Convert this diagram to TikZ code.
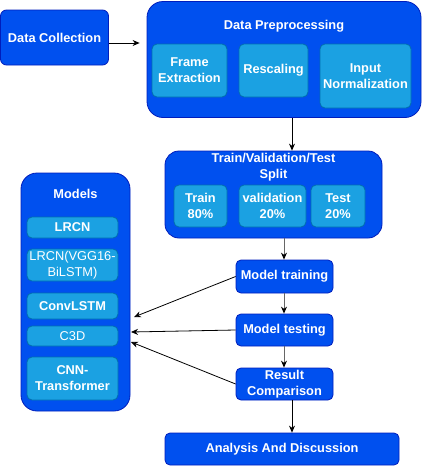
\documentclass[tikz,border=0pt]{standalone}
\usepackage{fontspec}
\setmainfont{Liberation Sans}
\usetikzlibrary{arrows.meta}
\definecolor{dblue}{HTML}{0050EF}
\definecolor{dstroke}{HTML}{001DBC}
\definecolor{lblue}{HTML}{1BA1E2}
\definecolor{lstroke}{HTML}{006EAF}
\tikzset{
  bigbox/.style={draw=dstroke, fill=dblue, line width=0.8pt, rounded corners=#1, inner sep=0pt},
  bigbox/.default=6pt,
  smallbox/.style={draw=lstroke, fill=lblue, line width=0.8pt, rounded corners=5pt, inner sep=0pt},
  lbl/.style={text=white, font=\fontsize{12.8}{16}\selectfont\bfseries, align=center, inner sep=0pt},
  lblr/.style={text=white, font=\fontsize{12.8}{16}\selectfont, align=center, inner sep=0pt},
  arr/.style={-{Stealth[length=7pt,width=6pt]}, line width=0.8pt, black},
  garr/.style={-{Stealth[length=7pt,width=6pt,color=black]}, line width=1pt, draw=gray!80!black},
}
\begin{document}
\begin{tikzpicture}[x=1pt,y=-1pt]
\useasboundingbox (0,0) rectangle (422,466);
% Data collection
\node[bigbox=6pt, minimum width=108pt, minimum height=55pt] (dc) at (54.5,37.5) {};
\node[lbl] (dct) at (dc.center) {Data Collection};
% Preprocessing
\node[bigbox=16pt, minimum width=274pt, minimum height=116pt] (pre) at (284,59.5) {};
\node[lbl] (pret) at (284,26) {Data Preprocessing};
\node[smallbox, minimum width=75pt, minimum height=53pt] (fe) at (189.5,70.5) {};
\node[lbl] (fet) at (fe.center) {Frame\\Extraction};
\node[smallbox, minimum width=69pt, minimum height=53pt] (rs) at (273.5,70.5) {};
\node[lbl] (rst) at (rs.center) {Rescaling};
\node[smallbox, minimum width=91pt, minimum height=64pt] (in) at (365.5,76) {};
\node[lbl] (int) at (in.center) {Input\\Normalization};
% Split
\node[bigbox=14pt, minimum width=217pt, minimum height=87pt] (sp) at (273.5,194.5) {};
\node[lbl] (spt) at (273.5,167.5) {Train/Validation/Test\\Split};
\node[smallbox, minimum width=53pt, minimum height=42pt] (tr) at (200.5,206) {};
\node[lbl] (trt) at (tr.center) {Train\\80\%};
\node[smallbox, minimum width=67pt, minimum height=42pt] (va) at (272.5,206) {};
\node[lbl] (vat) at (va.center) {validation\\20\%};
\node[smallbox, minimum width=54pt, minimum height=42pt] (te) at (338,206) {};
\node[lbl] (tet) at (te.center) {Test\\20\%};
% Models
\node[bigbox=16pt, minimum width=109pt, minimum height=238pt] (mo) at (75.5,292) {};
\node[lbl] (mot) at (75.5,194) {Models};
\node[smallbox, minimum width=91pt, minimum height=21pt] (m1) at (72.5,227.5) {};
\node[lbl] (m1t) at (m1.center) {LRCN};
\node[smallbox, minimum width=91pt, minimum height=32pt] (m2) at (72.5,265) {};
\node[lblr] (m2t) at (m2.center) {LRCN(VGG16-\\BiLSTM)};
\node[smallbox, minimum width=91pt, minimum height=26pt] (m3) at (72.5,306) {};
\node[lbl] (m3t) at (m3.center) {ConvLSTM};
\node[smallbox, minimum width=91pt, minimum height=20pt] (m4) at (72.5,336) {};
\node[lblr] (m4t) at (m4.center) {C3D};
\node[smallbox, minimum width=91pt, minimum height=43pt] (m5) at (72.5,378.5) {};
\node[lbl] (m5t) at (m5.center) {CNN-\\Transformer};
% Process steps
\node[bigbox=5pt, minimum width=97pt, minimum height=33pt] (mt) at (284.5,276.5) {};
\node[lbl] (mtt) at (mt.center) {Model training};
\node[bigbox=5pt, minimum width=97pt, minimum height=32pt] (ms) at (284.5,330) {};
\node[lbl] (mst) at (ms.center) {Model testing};
\node[bigbox=5pt, minimum width=97pt, minimum height=32pt] (rc) at (284.5,384) {};
\node[lbl] (rct) at (rc.center) {Result\\Comparison};
\node[bigbox=5pt, minimum width=234pt, minimum height=32pt] (an) at (282,449) {};
\node[lbl] (ant) at (an.center) {Analysis And Discussion};
% targets
\coordinate (c1) at (134,317);
\coordinate (c2) at (131,332);
\coordinate (c3) at (131,342);
% Connectors
\draw[arr] (dc.east |- 0,43) -- ([xshift=-7pt]pre.west |- 0,43);
\draw[arr] (pre.south -| 292,0) -- (sp.north -| 292,0);
\draw[garr] (sp.south -| 284,0) -- (mt.north -| 284,0);
\draw[garr] (mt.south -| 284,0) -- (ms.north -| 284,0);
\draw[garr] (ms.south -| 284,0) -- (rc.north -| 284,0);
\draw[arr] (rc.south -| 292,0) -- (an.north -| 292,0);
\draw[arr] (mt.west) -- (c1);
\draw[arr] (ms.west) -- (c2);
\draw[arr] (rc.west) -- (c3);
\end{tikzpicture}
\end{document}
